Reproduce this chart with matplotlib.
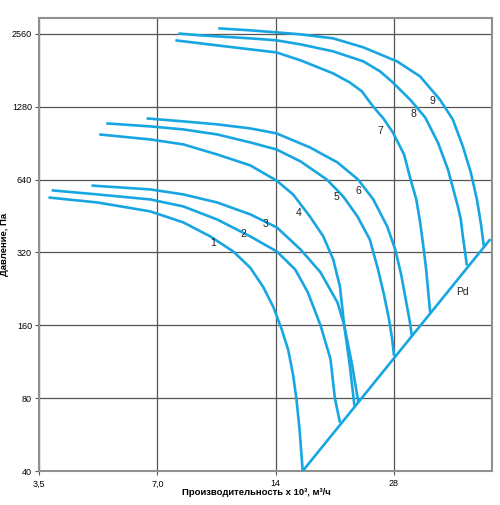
import matplotlib
matplotlib.use("Agg")
import matplotlib.pyplot as plt
from matplotlib.ticker import FixedLocator, FixedFormatter, NullLocator

plt.rcParams['font.family'] = ['Liberation Sans', 'DejaVu Sans']

# fan curves: flow (x 10^3 m3/h) and pressure (Pa)
q1 = [3.70, 4.93, 6.72, 8.15, 9.54, 10.92, 12.06, 13.0, 13.8, 14.5, 15.06, 15.5, 15.8, 16.1, 16.4]
p1 = [540, 515, 473, 426, 373, 323, 277, 231, 191, 154, 127, 100, 80, 59.4, 40]

q2 = [3.77, 4.93, 6.72, 8.15, 9.94, 12.06, 14.1, 15.7, 16.9, 18.2, 19.3, 19.8, 20.4]
p2 = [578, 556, 530, 496, 438, 373, 323, 272, 219, 160, 116, 80, 63.4]

q3 = [4.76, 6.72, 8.15, 9.94, 12.06, 14.1, 16.2, 18.2, 20.1, 20.9, 21.9, 22.7]
p3 = [605, 583, 556, 515, 460, 406, 329, 265, 199, 161, 110, 77.5]

q4 = [4.98, 6.72, 8.15, 9.94, 12.06, 14.06, 15.5, 17.1, 18.5, 19.6, 20.4, 20.9, 21.6, 22.2]
p4 = [984, 938, 895, 813, 733, 635, 556, 451, 373, 300, 231, 161, 110, 74.6]

q5 = [5.19, 6.72, 8.15, 9.94, 12.06, 14.06, 16.2, 18.9, 20.8, 22.6, 24.3, 25.5, 26.4, 27.2, 27.7, 28.0]
p5 = [1093, 1062, 1032, 984, 912, 853, 761, 640, 545, 451, 362, 272, 214, 169, 140, 120]

q6 = [6.57, 8.15, 9.94, 12.06, 14.06, 17.1, 20.1, 22.7, 24.8, 26.9, 28.2, 29.2, 30.0, 30.7, 31.1]
p6 = [1146, 1114, 1083, 1042, 994, 870, 754, 640, 530, 410, 329, 259, 204, 166, 144]

q7 = [7.78, 9.0, 12.06, 14.06, 16.2, 19.6, 21.6, 23.2, 24.8, 26.3, 27.8, 29.7, 30.7, 31.9, 32.6, 33.2, 33.8, 34.2, 34.6]
p7 = [2409, 2341, 2211, 2148, 1991, 1759, 1614, 1482, 1280, 1146, 1003, 813, 660, 530, 430, 345, 272, 221, 181]

q8 = [7.92, 9.0, 12.06, 14.06, 16.2, 19.6, 23.4, 25.8, 27.8, 30.9, 33.6, 36.2, 38.4, 39.5, 40.7, 41.4, 41.9, 42.9]
p8 = [2570, 2526, 2455, 2409, 2318, 2169, 1972, 1793, 1614, 1360, 1157, 912, 705, 594, 496, 438, 373, 283]

q9 = [10.0, 12.06, 14.06, 16.2, 19.6, 23.4, 28.5, 32.6, 36.6, 39.5, 41.9, 43.9, 45.5, 46.6, 47.4]
p9 = [2700, 2649, 2599, 2550, 2455, 2253, 1972, 1710, 1373, 1135, 878, 685, 530, 418, 339]

curves_q = [q1, q2, q3, q4, q5, q6, q7, q8, q9]
curves_p = [p1, p2, p3, p4, p5, p6, p7, p8, p9]
curve_names = ["1", "2", "3", "4", "5", "6", "7", "8", "9"]
label_q = [9.71, 11.6, 13.2, 16.0, 20.0, 22.75, 25.9, 31.3, 35.0]
label_p = [349, 383, 418, 467, 540, 577, 1019, 1197, 1355]

# dynamic pressure line
pd_q = [16.4, 49.0]
pd_p = [40, 360]
pd_label = (41.7, 219)

x_ticks = [3.5, 7.0, 14, 28]
x_tick_labels = ["3,5", "7,0", "14", "28"]
y_ticks = [40, 80, 160, 320, 640, 1280, 2560]
y_tick_labels = ["40", "80", "160", "320", "640", "1280", "2560"]

blue = "#17a6e2"

fig = plt.figure(figsize=(5.0, 5.05), dpi=100)
ax = fig.add_axes([0.078, 0.0673, 0.906, 0.8971])
ax.set_xscale("log")
ax.set_yscale("log")
ax.set_xlim(3.5, 49.7)
ax.set_ylim(40, 2980)

for q, p in zip(curves_q, curves_p):
    ax.plot(q, p, color=blue, lw=1.9, solid_joinstyle="round", solid_capstyle="butt", zorder=3)
ax.plot(pd_q, pd_p, color=blue, lw=1.9, zorder=3)

for name, lq, lp in zip(curve_names, label_q, label_p):
    ax.text(lq, lp, name, fontsize=7.5, color="#222222", ha="center", va="center", zorder=4)
ax.text(pd_label[0], pd_label[1], "Pd", fontsize=7.5, color="#222222", ha="center", va="center", zorder=4)

ax.xaxis.set_major_locator(FixedLocator(x_ticks))
ax.xaxis.set_major_formatter(FixedFormatter(x_tick_labels))
ax.xaxis.set_minor_locator(NullLocator())
ax.yaxis.set_major_locator(FixedLocator(y_ticks))
ax.yaxis.set_major_formatter(FixedFormatter(y_tick_labels))
ax.yaxis.set_minor_locator(NullLocator())

ax.grid(True, color="#555555", lw=0.9, zorder=1)
ax.tick_params(axis="both", labelsize=6.5, length=3, width=0.8, color="#555555", pad=2)
ax.tick_params(axis="x", pad=3)
for s in ax.spines.values():
    s.set_color("#909090")
    s.set_linewidth(1.5)

ax.set_xlabel("Производительность х 10³, м³/ч", fontsize=6.8, fontweight="bold")
ax.set_ylabel("Давление, Па", fontsize=6.8, fontweight="bold")
ax.xaxis.set_label_coords(0.479, -0.037)
ax.yaxis.set_label_coords(-0.066, 0.5)

fig.savefig("out.png", dpi=100)
